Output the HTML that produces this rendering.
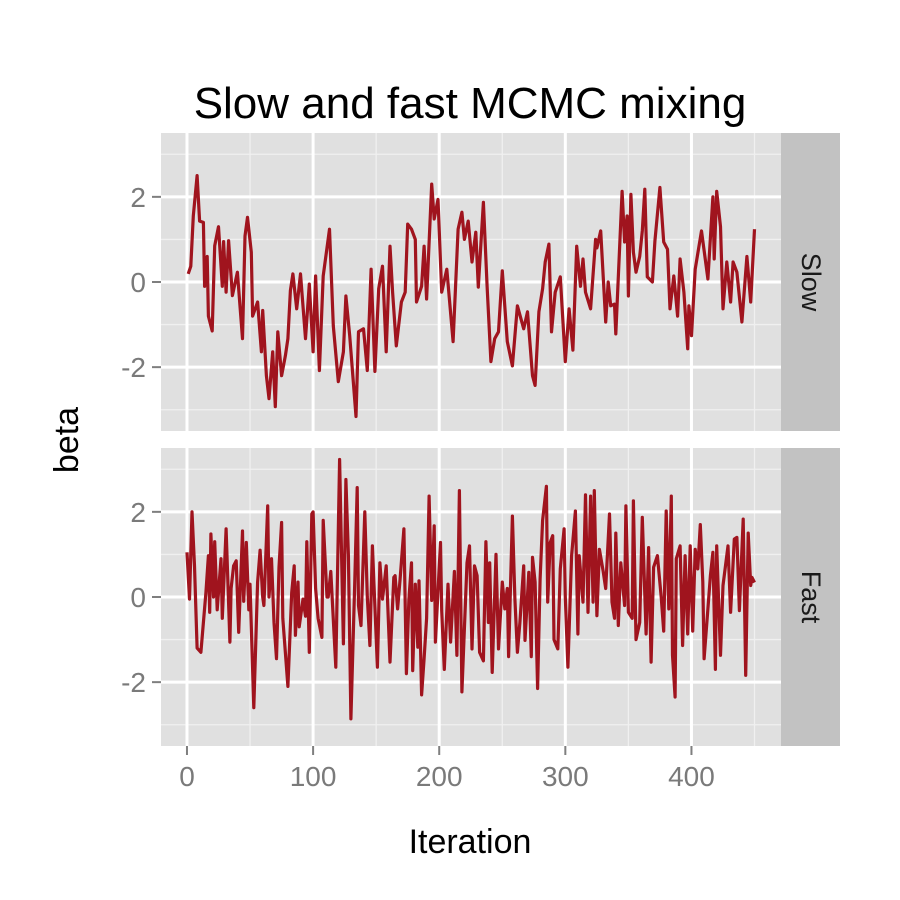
<!DOCTYPE html>
<html><head><meta charset="utf-8"><style>
html,body{margin:0;padding:0;background:#fff;}
svg{display:block;font-family:"Liberation Sans",Arial,sans-serif;}
</style></head><body>
<svg id="chart" width="900" height="900" viewBox="0 0 900 900">
<rect width="900" height="900" fill="#fff"/>
<text x="470" y="118" font-size="44" text-anchor="middle" fill="#000">Slow and fast MCMC mixing</text>
<text transform="translate(78,440) rotate(-90)" font-size="34" text-anchor="middle" fill="#000">beta</text>
<text x="470" y="853" font-size="34" text-anchor="middle" fill="#000">Iteration</text>
<g id="panels"></g>
</svg>
<script>
const xTicks = [0, 100, 200, 300, 400];
const xMinor = [50, 150, 250, 350, 450];
const yTicks = [-2, 0, 2];
const yMinor = [-3, -1, 1, 3];
const panelNames = ["Slow", "Fast"];
const slowIter = [1,3,5,8,10,13,14,16,17,20,22,25,28,29,31,33,36,40,44,46,48,51,52,56,59,60,63,65,68,70,72,75,78,80,82,84,87,90,94,97,100,102,105,108,113,116,120,124,126,129,134,136,140,143,146,149,152,155,158,161,163,166,170,173,175,178,181,182,186,188,190,194,196,199,202,206,211,215,218,220,223,226,229,231,235,238,241,244,247,250,254,258,262,267,270,274,276,279,282,284,287,289,292,296,300,303,306,309,312,314,316,320,324,325,328,332,334,336,339,340,345,347,349,350,352,354,356,359,361,363,365,369,371,375,378,381,383,386,389,391,394,397,398,400,403,408,413,417,418,420,423,425,428,431,433,436,440,444,447,450];
const slowVal = [0.19,0.37,1.55,2.5,1.43,1.4,-0.1,0.6,-0.8,-1.15,0.85,1.3,-0.1,0.95,-0.24,0.97,-0.32,0.23,-1.33,1.08,1.52,0.7,-0.8,-0.47,-1.64,-0.67,-2.2,-2.74,-1.64,-2.93,-1.17,-2.2,-1.73,-1.33,-0.2,0.19,-0.63,0.19,-1.33,-0.05,-1.64,0.14,-2.08,0.14,1.24,-1.03,-2.34,-1.64,-0.33,-1.26,-3.16,-1.17,-1.1,-2.08,0.3,-2.1,-0.16,0.37,-1.64,0.84,-0.24,-1.5,-0.47,-0.24,1.36,1.24,1.0,-0.47,-0.1,0.84,-0.4,2.3,1.48,1.94,-0.24,0.3,-1.4,1.24,1.64,1.0,1.43,0.47,1.17,-0.12,1.87,-0.1,-1.87,-1.33,-1.17,0.26,-1.4,-1.97,-0.56,-1.1,-0.7,-2.2,-2.43,-0.7,-0.16,0.47,0.89,-1.17,-0.24,0.12,-1.87,-0.63,-1.6,0.84,-0.1,0.54,-0.24,-0.63,1.0,0.8,1.2,-0.94,0.0,-0.56,-0.52,-1.22,2.13,0.94,1.55,-0.33,2.06,0.7,0.23,0.6,1.2,2.18,0.12,0.0,0.96,2.22,0.94,0.77,-0.63,0.14,-0.8,0.54,-0.24,-1.57,-0.56,-1.26,0.3,1.2,0.07,2.0,0.54,2.13,1.3,-0.63,0.47,-0.47,0.47,0.23,-0.94,0.6,-0.47,1.24];
const fastIter = [0,2,4,6,8,11,15,17,18,19,21,22,24,27,28,31,34,35,37,39,41,44,45,47,49,50,53,56,58,60,61,64,65,67,69,71,73,75,76,80,83,85,86,88,89,92,94,95,97,99,100,102,104,107,108,111,112,114,118,121,124,126,128,130,133,135,136,138,141,143,145,147,151,153,155,158,161,164,165,167,169,172,174,176,178,179,181,183,184,186,188,190,192,194,196,197,201,202,204,207,209,212,214,216,218,222,224,226,228,230,232,235,237,239,240,242,245,247,250,252,254,255,258,260,262,264,267,268,271,273,274,276,278,280,282,285,286,288,290,291,294,296,299,300,302,305,308,310,311,314,316,318,320,322,323,325,327,330,332,335,337,339,340,342,344,347,348,350,353,354,356,359,361,364,366,368,370,373,376,378,380,382,384,385,387,388,391,393,395,397,399,401,403,405,407,409,410,413,415,417,419,420,423,425,429,431,434,436,438,441,443,445,447,448,450];
const fastVal = [1.05,-0.05,2.0,0.73,-1.2,-1.3,0.1,0.97,-0.36,1.48,0,1.3,-0.3,0.9,-0.5,1.6,-1.06,0.2,0.73,0.85,-0.83,1.55,-0.1,1.28,-0.3,0.3,-2.6,0.35,1.1,0,-0.2,2.14,0,0.9,-0.6,-1.45,0.7,1.75,-0.5,-2.1,0.1,0.73,-0.9,0.35,-0.7,-0.05,-0.45,1.3,-1.3,1.95,2.0,0.2,-0.5,-0.95,1.8,0,0,0.6,-1.65,3.23,-1.1,2.76,0.97,-2.86,0.3,2.57,-0.2,-0.67,2.0,0,-1.14,1.2,-1.65,0.8,-0.05,0.73,-1.53,0.46,0.5,-0.28,0.42,1.6,-1.8,-0.05,0.8,-1.73,0.3,-1.18,0.38,-2.3,-1.45,-0.5,2.37,-0.08,1.67,-1.06,1.28,-0.32,-1.7,0.3,-1.06,0.6,-1.37,2.5,-2.23,0.8,1.2,-1.22,0.73,0.5,-1.3,-1.5,1.3,-0.6,0.8,-1.77,1.0,-1.22,0.35,-0.28,0.2,-1.4,1.9,-0.05,-1.3,-0.6,0.73,-1.02,0.58,-1.4,0.93,0.35,-2.15,0.42,1.8,2.6,-0.12,1.28,1.44,-1.0,-1.22,0.66,1.6,0,-1.65,0.97,2.02,-0.87,0.97,-0.12,2.4,-0.36,2.37,-0.12,2.5,-0.44,1.12,0.6,0.2,1.95,-0.12,-0.5,1.5,-0.67,0.8,-0.2,2.14,-0.36,-0.5,2.26,-1.0,-0.6,1.87,-0.87,1.16,-1.53,0.7,0.97,0,-0.8,2.02,-0.28,2.37,-1.37,-2.35,0.9,1.2,-1.14,0.97,-0.87,1.2,-0.8,1.12,0.66,1.7,0.35,-1.45,-0.28,0.5,1.05,-1.7,1.2,-1.37,0.27,1.2,-0.36,1.36,1.4,-0.32,1.83,-1.84,1.5,0.27,0.46,0.34];

const NS = "http://www.w3.org/2000/svg";
const X0 = 161, X1 = 781, XMIN = -20.6, XMAX = 471;
const xScale = v => X0 + (v - XMIN) / (XMAX - XMIN) * (X1 - X0);
const panelsG = document.getElementById("panels");
function mk(tag, attrs, parent) {
  const e = document.createElementNS(NS, tag);
  for (const k in attrs) e.setAttribute(k, attrs[k]);
  parent.appendChild(e);
  return e;
}
const panelTops = [133, 448];
const PH = 298, YMIN = -3.5, YMAX = 3.5;
const seriesIter = [slowIter, fastIter];
const seriesVal = [slowVal, fastVal];
panelTops.forEach((top, p) => {
  const yScale = v => top + PH - (v - YMIN) / (YMAX - YMIN) * PH;
  const g = mk("g", {}, panelsG);
  
  
  const bg = mk("rect", {x: X0, y: top, width: X1 - X0, height: PH, fill: "#e0e0e0"}, g);
  
  
  xMinor.forEach(v => { const l = mk("line", {x1: xScale(v), x2: xScale(v), y1: top, y2: top + PH, stroke: "#f0f0f0", "stroke-width": 1.3}, g);
      });
  yMinor.forEach(v => { const l = mk("line", {x1: X0, x2: X1, y1: yScale(v), y2: yScale(v), stroke: "#f0f0f0", "stroke-width": 1.3}, g);
      });
  xTicks.forEach(v => { const l = mk("line", {x1: xScale(v), x2: xScale(v), y1: top, y2: top + PH, stroke: "#fff", "stroke-width": 3}, g);
      });
  yTicks.forEach(v => {
    const y = yScale(v);
    const l = mk("line", {x1: X0, x2: X1, y1: y, y2: y, stroke: "#fff", "stroke-width": 3}, g);
     
    const t = mk("line", {x1: 152, x2: 161, y1: y, y2: y, stroke: "#7f7f7f", "stroke-width": 2}, g);
     
    const tx = mk("text", {x: 146, y: y + 10, "font-size": 28, "text-anchor": "end", fill: "#7a7a7a"}, g);
    tx.textContent = v;
     
  });
  const its = seriesIter[p], vals = seriesVal[p];
  const n = Math.min(its.length, vals.length);
  let d = "";
  for (let i = 0; i < n; i++) d += (i ? "L" : "M") + xScale(its[i]).toFixed(1) + "," + yScale(vals[i]).toFixed(1);
  const path = mk("path", {d: d, fill: "none", stroke: "#a0141e", "stroke-width": 3.2, "stroke-linejoin": "round"}, g);
  
  
  const strip = mk("rect", {x: 781, y: top, width: 59, height: PH, fill: "#c2c2c2"}, g);
  
  
  const st = mk("text", {transform: "translate(802," + (top + PH / 2) + ") rotate(90)", "font-size": 27, "text-anchor": "middle", fill: "#1a1a1a"}, g);
  st.textContent = panelNames[p];
  
  
});
const axG = mk("g", {}, panelsG);


xTicks.forEach(v => {
  const x = xScale(v);
  const t = mk("line", {x1: x, x2: x, y1: 746, y2: 755, stroke: "#7f7f7f", "stroke-width": 2}, axG);
   
  const tx = mk("text", {x: x, y: 786, "font-size": 28, "text-anchor": "middle", fill: "#7a7a7a"}, axG);
  tx.textContent = v;
   
});
</script>
</body></html>
